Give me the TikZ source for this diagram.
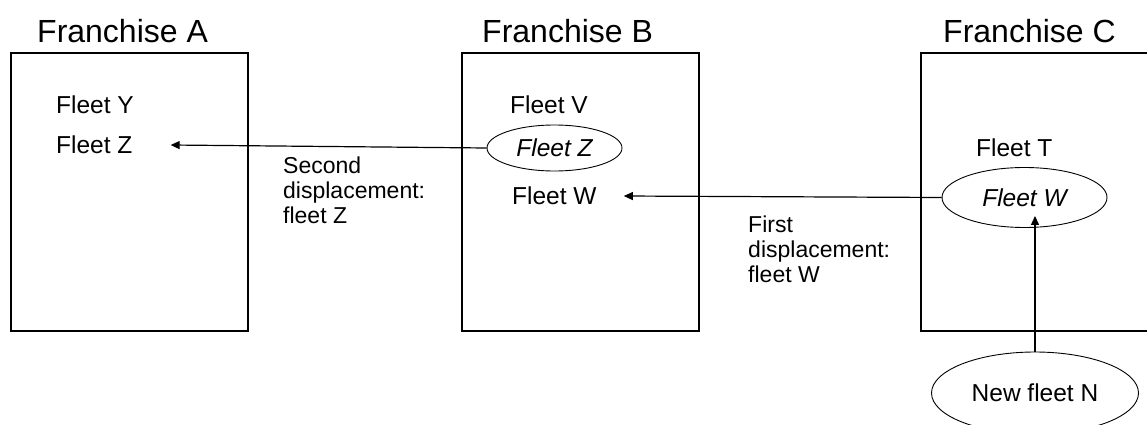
\documentclass[tikz,border=0pt]{standalone}
\usepackage{fontspec}
\setmainfont{Liberation Sans}
\usetikzlibrary{shapes.geometric, arrows.meta}

\begin{document}
\begin{tikzpicture}[x=1pt, y=-1pt, every node/.style={inner sep=0pt},
        title/.style={anchor=west, font=\fontsize{32}{36}\selectfont},
        franbox/.style={draw, line width=1.2pt, minimum height=278pt, minimum width=237pt},
        fleet/.style={anchor=west, font=\fontsize{24.5}{27}\selectfont},
        oval/.style={ellipse, draw, line width=0.9pt, font=\fontsize{24.5}{27}\selectfont\itshape},
        lbl/.style={anchor=north west, align=left, font=\fontsize{23}{25}\selectfont},
        arr/.style={line width=1.2pt, -{Triangle[length=9pt, width=8pt]}}]
    \useasboundingbox (0,0) rectangle (1147,425);
    \clip (0,0) rectangle (1147,425);
    % franchises
    \node[franbox] (boxA) at (129.5,192) {};
    \node[franbox] (boxB) at (580.5,192) {};
    \node[franbox] (boxC) at (1039.5,192) {};
    \node[title] (tA) at (37,31) {Franchise A};
    \node[title] (tB) at (482,31) {Franchise B};
    \node[title] (tC) at (943,31) {Franchise C};
    % fleets
    \node[fleet] (yA) at (56,105) {Fleet Y};
    \node[fleet] (zA) at (56,145) {Fleet Z};
    \node[fleet] (vB) at (510,105) {Fleet V};
    \node[oval, minimum width=135pt, minimum height=46pt] (zB) at (554.5,148) {Fleet Z};
    \node[fleet] (wB) at (512,196) {Fleet W};
    \node[fleet] (tC2) at (976,148) {Fleet T};
    \node[oval, minimum width=165pt, minimum height=60pt] (wC) at (1024.5,197.5) {Fleet W};
    \node[oval, font=\fontsize{24.5}{27}\selectfont, minimum width=207pt, minimum height=82pt] (nN) at (1035,393) {New fleet N};
    % displacements
    \node[lbl] (second) at (283,157) {Second\\displacement:\\fleet Z};
    \node[lbl] (first) at (748,216) {First\\displacement:\\fleet W};
    \draw[arr] (zB.west) -- ([xshift=38pt]zA.east);
    \draw[arr] (wC.west) -- ([xshift=27pt]wB.east);
    \draw[arr] (nN.north) -- ([yshift=12pt]nN.north |- wC.south);
\end{tikzpicture}
\end{document}
